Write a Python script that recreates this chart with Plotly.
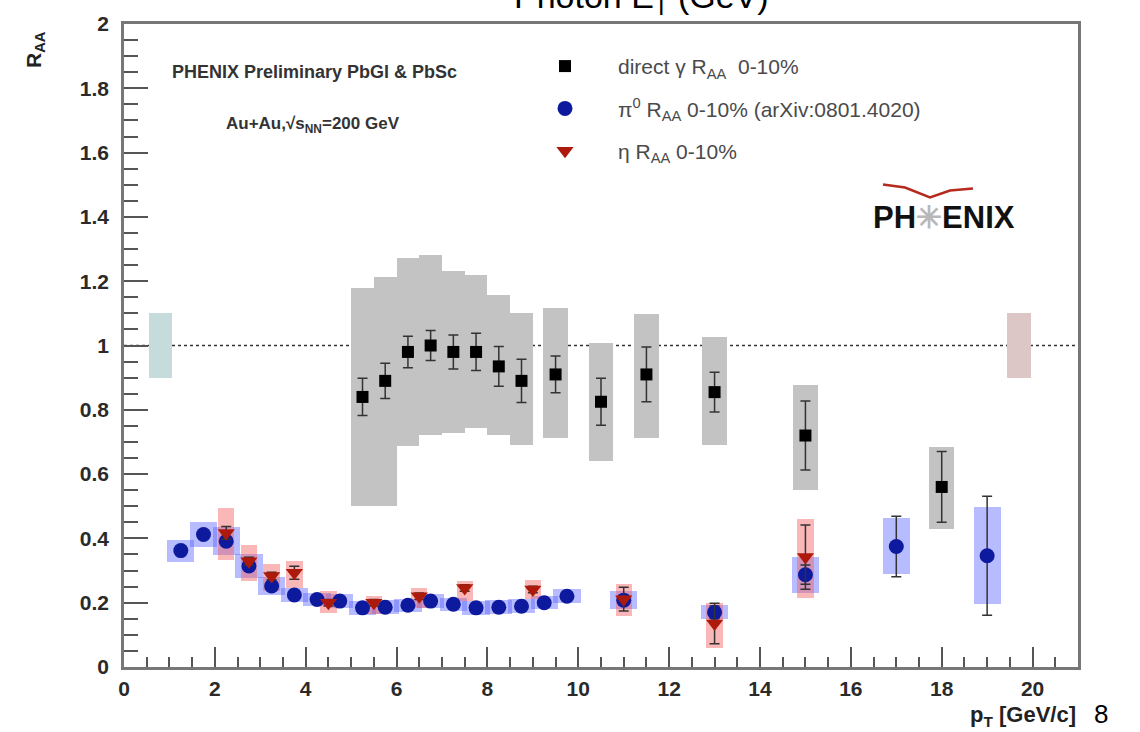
import plotly.graph_objects as go

# ---------------- data ----------------
gamma_x = [5.25, 5.75, 6.25, 6.75, 7.25, 7.75, 8.25, 8.75, 9.5, 10.5, 11.5, 13.0, 15.0, 18.0]
gamma_y = [0.84, 0.89, 0.98, 1.00, 0.98, 0.98, 0.935, 0.89, 0.91, 0.825, 0.91, 0.855, 0.72, 0.56]
gamma_stat = [0.058, 0.055, 0.049, 0.047, 0.053, 0.058, 0.062, 0.067, 0.057, 0.073, 0.085, 0.062, 0.107, 0.11]
gamma_sys_lo = [0.50, 0.50, 0.686, 0.723, 0.728, 0.743, 0.723, 0.689, 0.712, 0.640, 0.712, 0.689, 0.550, 0.430]
gamma_sys_hi = [1.178, 1.214, 1.273, 1.282, 1.232, 1.220, 1.157, 1.100, 1.116, 1.007, 1.097, 1.025, 0.877, 0.685]

pi0_x = [1.25, 1.75, 2.25, 2.75, 3.25, 3.75, 4.25, 4.75, 5.25, 5.75, 6.25, 6.75, 7.25, 7.75,
         8.25, 8.75, 9.25, 9.75, 11.0, 13.0, 15.0, 17.0, 19.0]
pi0_y = [0.362, 0.412, 0.391, 0.314, 0.252, 0.224, 0.210, 0.205, 0.184, 0.186, 0.192, 0.205,
         0.195, 0.184, 0.186, 0.189, 0.200, 0.220, 0.208, 0.170, 0.287, 0.375, 0.346]
pi0_stat = [0.01, 0.01, 0.01, 0.01, 0.01, 0.01, 0.01, 0.01, 0.01, 0.01, 0.01, 0.01,
            0.01, 0.01, 0.01, 0.01, 0.01, 0.01, 0.015, 0.02, 0.03, 0.094, 0.185]
pi0_sys = [0.034, 0.040, 0.044, 0.036, 0.027, 0.022, 0.021, 0.021, 0.021, 0.021, 0.021, 0.021,
           0.021, 0.021, 0.021, 0.021, 0.021, 0.022, 0.027, 0.022, 0.056, 0.087, 0.151]

eta_x = [2.25, 2.75, 3.25, 3.75, 4.5, 5.5, 6.5, 7.5, 9.0, 11.0, 13.0, 15.0]
eta_y = [0.417, 0.329, 0.283, 0.293, 0.200, 0.200, 0.220, 0.246, 0.241, 0.211, 0.135, 0.342]
eta_stat = [0.02, 0.012, 0.012, 0.02, 0.01, 0.01, 0.01, 0.01, 0.01, 0.037, 0.063, 0.10]
eta_sys_lo = [0.334, 0.269, 0.236, 0.246, 0.169, 0.166, 0.184, 0.205, 0.210, 0.160, 0.060, 0.215]
eta_sys_hi = [0.495, 0.381, 0.321, 0.329, 0.236, 0.220, 0.246, 0.269, 0.272, 0.257, 0.200, 0.459]

norm_x = [0.8, 19.7]
norm_lo = [0.9, 0.9]
norm_hi = [1.1, 1.1]
ref_level = 1.0

x_ticks = [0, 2, 4, 6, 8, 10, 12, 14, 16, 18, 20]
y_ticks = [0, 0.2, 0.4, 0.6, 0.8, 1, 1.2, 1.4, 1.6, 1.8, 2]
y_ticklabels = ["0", "0.2", "0.4", "0.6", "0.8", "1", "1.2", "1.4", "1.6", "1.8", "2"]

# ---------------- layout helpers ----------------
L, R, T, B = 124, 1078, 22, 667
W, H = 1140, 732


def px(xp):
    return (xp - L) / (R - L)


def py(yp):
    return (B - yp) / (B - T)


fig = go.Figure()

# normalisation boxes
fig.add_trace(go.Bar(x=norm_x, y=[h - l for h, l in zip(norm_hi, norm_lo)], base=norm_lo,
                     width=0.52, marker=dict(color=["#c6dcdc", "#dcc6c6"], line=dict(width=0)),
                     showlegend=False, hoverinfo="skip"))

# gamma systematic boxes
g_w = [0.5 if x < 9 else 0.54 for x in gamma_x]
fig.add_trace(go.Bar(x=gamma_x, y=[h - l for h, l in zip(gamma_sys_hi, gamma_sys_lo)], base=gamma_sys_lo,
                     width=g_w, marker=dict(color="#c3c3c3", line=dict(width=0)),
                     showlegend=False, hoverinfo="skip"))

# pi0 systematic boxes
fig.add_trace(go.Bar(x=pi0_x, y=[2 * s for s in pi0_sys], base=[v - s for v, s in zip(pi0_y, pi0_sys)],
                     width=0.6, marker=dict(color="rgba(95,105,255,0.45)", line=dict(width=0)),
                     showlegend=False, hoverinfo="skip"))

# eta systematic boxes
fig.add_trace(go.Bar(x=eta_x, y=[h - l for h, l in zip(eta_sys_hi, eta_sys_lo)], base=eta_sys_lo,
                     width=0.36, marker=dict(color="rgba(245,95,95,0.45)", line=dict(width=0)),
                     showlegend=False, hoverinfo="skip"))

legend_font = dict(family="Liberation Sans, Arial", size=21, color="#4a4a4a")

fig.add_trace(go.Scatter(x=gamma_x, y=gamma_y, mode="markers",
                         marker=dict(symbol="square", size=12, color="black"),
                         error_y=dict(type="data", array=gamma_stat, color="#333333", thickness=1.5, width=5),
                         name="direct \u03b3 R<sub>AA</sub>  0-10%", legendgroup="g", hoverinfo="skip"))
fig.add_trace(go.Scatter(x=pi0_x, y=pi0_y, mode="markers",
                         marker=dict(symbol="circle", size=15, color="#0d1a9e"),
                         error_y=dict(type="data", array=pi0_stat, color="#333333", thickness=1.5, width=5),
                         name="\u03c0<sup>0</sup> R<sub>AA</sub> 0-10% (arXiv:0801.4020)", legendgroup="p",
                         hoverinfo="skip"))
fig.add_trace(go.Scatter(x=eta_x, y=eta_y, mode="markers",
                         marker=dict(symbol="triangle-down", size=15, color="#ad1a0c"),
                         error_y=dict(type="data", array=eta_stat, color="#333333", thickness=1.5, width=5),
                         name="\u03b7 R<sub>AA</sub> 0-10%", legendgroup="e", hoverinfo="skip"))

# reference line at 1
fig.add_shape(type="line", xref="paper", x0=0, x1=1, yref="y", y0=ref_level, y1=ref_level,
              line=dict(color="#333333", width=1.3, dash="dot"), layer="below")

tick_font = dict(family="Liberation Sans, Arial", size=21, color="#2a2a2a", weight="bold")

fig.update_layout(
    width=W, height=H,
    margin=dict(l=L, r=W - R, t=T, b=H - B, pad=0),
    paper_bgcolor="white", plot_bgcolor="white",
    barmode="overlay", bargap=0,
    font=dict(family="Liberation Sans, Arial"),
    legend=dict(x=px(512), y=py(44), xanchor="left", yanchor="top", font=legend_font,
                itemwidth=96, traceorder="grouped", tracegroupgap=12,
                bgcolor="rgba(0,0,0,0)", borderwidth=0, itemsizing="trace"),
    xaxis=dict(range=[0, 21], showgrid=False, zeroline=False, tickmode="array", tickvals=x_ticks,
               ticks="inside", ticklen=20, tickwidth=1.5, tickcolor="#555555",
               minor=dict(dtick=0.5, tick0=0, ticks="inside", ticklen=10, tickwidth=1.5, tickcolor="#555555",
                          showgrid=False),
               showline=True, linecolor="#777777", linewidth=2.5, mirror=True,
               tickfont=tick_font, ticklabelstandoff=1),
    yaxis=dict(range=[0, 2], showgrid=False, zeroline=False, tickmode="array", tickvals=y_ticks,
               ticktext=y_ticklabels,
               ticks="inside", ticklen=24, tickwidth=1.5, tickcolor="#555555",
               minor=dict(dtick=0.05, tick0=0, ticks="inside", ticklen=14, tickwidth=1.5, tickcolor="#555555",
                          showgrid=False),
               showline=True, linecolor="#777777", linewidth=2.5, mirror=True,
               tickfont=tick_font, ticklabelstandoff=8),
)


def note(text, xp, yp, size, color="#333333", bold=True, xanchor="center", yanchor="middle", angle=0, x=None):
    f = dict(size=size, color=color)
    if bold:
        f["weight"] = "bold"
    return dict(text=text, x=px(xp) if x is None else x, y=py(yp), xref="paper", yref="paper",
                xanchor=xanchor, yanchor=yanchor, textangle=angle, showarrow=False, font=f)


ann = [
    note("PHENIX Preliminary PbGl & PbSc", 314, 70, 18),
    note("Au+Au,\u221as<sub>NN</sub>=200 GeV", 313, 123, 17),
    note("PH<span style='color:#b8b8b8'>\u2733</span>ENIX", 944, 216, 31, color="#111111"),
    note("R<sub>AA</sub>", 35, 48, 21, color="#222222", angle=-90),
    note("p<sub>T</sub> [GeV/c]", 0, 716, 22, color="#222222", xanchor="right", x=1.0),
    note("8", 1101, 714, 26, color="black", bold=False),
    note("Photon E<sub>T</sub> (GeV)", 641, 20, 34, color="black", bold=False, yanchor="bottom"),
]
fig.update_layout(annotations=ann)

# PHENIX logo swoosh
sw = [(883, 183), (905, 186), (930, 196), (950, 189), (973, 187)]
path = "M " + " L ".join(f"{px(a):.4f},{py(b):.4f}" for a, b in sw)
fig.add_shape(type="path", path=path, xref="paper", yref="paper",
              line=dict(color="#b52a1c", width=2.5))

fig.write_html("out.html")
